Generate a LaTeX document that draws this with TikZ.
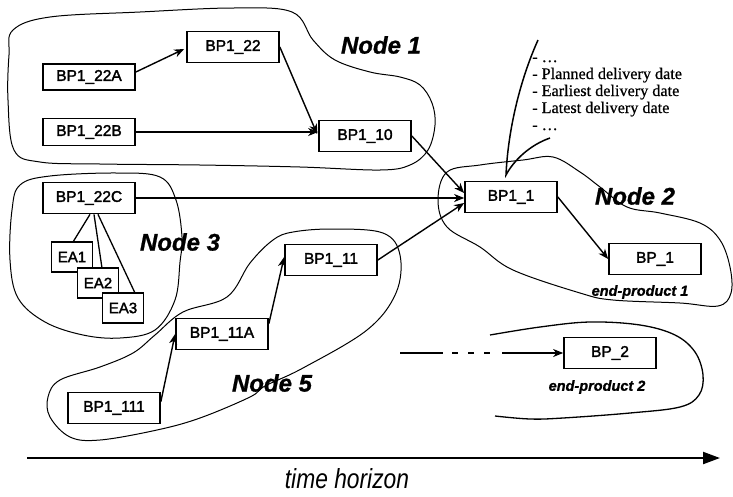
\documentclass[tikz,border=0pt]{standalone}
\usepackage{fontspec}
\setmainfont{Liberation Serif}
\setsansfont{Liberation Sans}
\newfontfamily\boxfont[FakeBold=2.0]{Liberation Sans}
\newfontfamily\labelfont[FakeBold=1.0]{Liberation Sans Bold Italic}
\newfontfamily\notefont[FakeBold=0.6]{Liberation Serif}
\usetikzlibrary{arrows.meta,calc}

\begin{document}
\begin{tikzpicture}[x=1pt,y=-1pt,
  pbox/.style={draw, line width=1.7pt, fill=white, minimum width=92pt, minimum height=31pt,
    inner sep=0pt, font=\boxfont\fontsize{15.5}{15.5}\selectfont},
  eabox/.style={pbox, minimum width=41pt, minimum height=30pt, font=\boxfont\fontsize{15}{15}\selectfont},
  blob/.style={line width=1pt},
  flow/.style={line width=1.4pt, -{Stealth[length=10pt,width=8pt,inset=3pt]}},
  plain/.style={line width=1.3pt},
  nodelabel/.style={inner sep=0pt, font=\labelfont\fontsize{24}{24}\selectfont},
  prodlabel/.style={inner sep=0pt, font=\labelfont\fontsize{14.5}{14.5}\selectfont},
  note/.style={anchor=base west, inner sep=0pt, font=\notefont\fontsize{16.2}{17}\selectfont}
]
\useasboundingbox (0,0) rectangle (733,496);

% ---- node regions ----
\draw[blob] plot[smooth cycle, tension=0.6] coordinates {
  (13,30) (50,17) (140,12) (233,8) (292,12) (313,40) (335,60) (370,72) (400,77)
  (420,85) (432,103) (435,125) (428,150) (410,165) (380,170) (300,167) (200,165)
  (100,164) (40,162) (14,150) (8,100) (9,55)};
\draw[blob] plot[smooth cycle, tension=0.6] coordinates {
  (20,185) (50,176) (117,173) (160,177) (176,200) (182,237) (180,262) (175,300)
  (155,330) (120,338) (83,335) (45,322) (18,298) (10,260) (12,210)};
\draw[blob] plot[smooth cycle, tension=0.6] coordinates {
  (293,232) (333,229) (383,233) (400,255) (396,293) (367,330) (303,368) (265,386)
  (250,397) (200,418) (157,430) (100,440) (70,437) (50,417) (48,397) (60,380)
  (100,367) (133,353) (155,335) (183,312) (227,297) (250,263) (273,240)};
\draw[blob] plot[smooth cycle, tension=0.6] coordinates {
  (447,172) (480,165) (523,160) (553,157) (580,172) (600,187) (627,207) (660,213)
  (700,223) (720,240) (730,267) (731,293) (718,306) (680,303) (613,300) (580,293)
  (513,270) (480,247) (447,227) (438,200)};
\draw[blob, line width=1.3pt] plot[smooth, tension=0.6] coordinates {
  (490,335) (540,327) (590,322) (640,325) (675,335) (695,352) (703,375) (699,395)
  (680,407) (630,413) (563,418) (530,419) (495,416)};

% ---- callout with delivery dates ----
\draw[line width=1.5pt] (538,40) .. controls (520,80) and (508,130) .. (506,175)
  .. controls (514,160) and (530,145) .. (550,138);
\node[note] (n1) at (532,62) {- \dots};
\node[note] (n2) at (532,79) {- Planned delivery date};
\node[note] (n3) at (532,96) {- Earliest delivery date};
\node[note] (n4) at (532,113) {- Latest delivery date};
\node[note] (n5) at (532,130) {- \dots};

% ---- process boxes ----
\node[pbox] (b22)  at (233,47)  {BP1\_22};
\node[pbox, minimum height=26pt] (b22a) at (89,77)  {BP1\_22A};
\node[pbox, minimum height=27pt] (b22b) at (89,132) {BP1\_22B};
\node[pbox] (b10)  at (365,136) {BP1\_10};
\node[pbox] (b22c) at (89,198)  {BP1\_22C};
\node[pbox] (b1)   at (511,197) {BP1\_1};
\node[pbox] (bp1)  at (655,259) {BP\_1};
\node[pbox] (b11)  at (331,260) {BP1\_11};
\node[pbox] (b11a) at (222,334) {BP1\_11A};
\node[pbox] (b111) at (114,408) {BP1\_111};
\node[pbox] (bp2)  at (610,353) {BP\_2};

% ---- EA attachments of BP1_22C ----
\draw[plain] ($(b22c.south)+(1,0)$) -- (73,242);
\draw[plain] ($(b22c.south)+(5,0)$) -- (102,268);
\draw[plain] ($(b22c.south)+(9,0)$) -- (135,293);
\node[eabox] (ea1) at (72,257)  {EA1};
\node[eabox] (ea2) at (98,283)  {EA2};
\node[eabox] (ea3) at (123,308) {EA3};

% ---- flows ----
\draw[flow] ($(b22a.east)+(0,-5)$) -- ($(b22.west)+(-2,2)$);
\draw[flow] (b22.east) -- ($(b10.west)+(-1,-2)$);
\draw[flow] (b22b.east) -- (b22b.east -| b10.west);
\draw[flow] (b10.east) -- ($(b1.west)+(0,-4)$);
\draw[flow] (b22c.east) -- (b22c.east -| b1.west);
\draw[flow] (b11.east) -- ($(b1.west)+(0,6)$);
\draw[flow] (b1.east) -- (bp1.west);
\draw[flow] ($(b11a.north east)+(0,6)$) -- ($(b11.west)+(0,-3)$);
\draw[flow] ($(b111.north east)+(0,10)$) -- (b11a.west);

% ---- elided flow towards BP_2 ----
\coordinate (dA) at (400,353);
\coordinate (dB) at (443,353);
\coordinate (dC) at (452,353);
\coordinate (dD) at (491,353);
\coordinate (dE) at (502,353);
\draw[plain] (dA) -- (dB);
\draw[plain, dash pattern=on 6pt off 10pt] (dC) -- (dD);
\draw[flow] (dE) -- (bp2.west);

% ---- labels ----
\node[nodelabel] (l1) at (381,45)  {Node 1};
\node[nodelabel] (l2) at (635,196) {Node 2};
\node[nodelabel] (l3) at (180,242) {Node 3};
\node[nodelabel] (l5) at (272,383) {Node 5};
\node[prodlabel] (e1) at (640,292) {end-product 1};
\node[prodlabel] (e2) at (597,387) {end-product 2};

% ---- time axis ----
\coordinate (t0) at (27,458);
\coordinate (t1) at (720,458);
\draw[line width=2.2pt, -{Triangle[length=17pt,width=12pt]}] (t0) -- (t1);
\node[inner sep=0pt, font=\sffamily\itshape\fontsize{24}{24}\selectfont] (th) at (347,479)
  {\scalebox{0.95}[1.15]{time horizon}};
\end{tikzpicture}
\end{document}
